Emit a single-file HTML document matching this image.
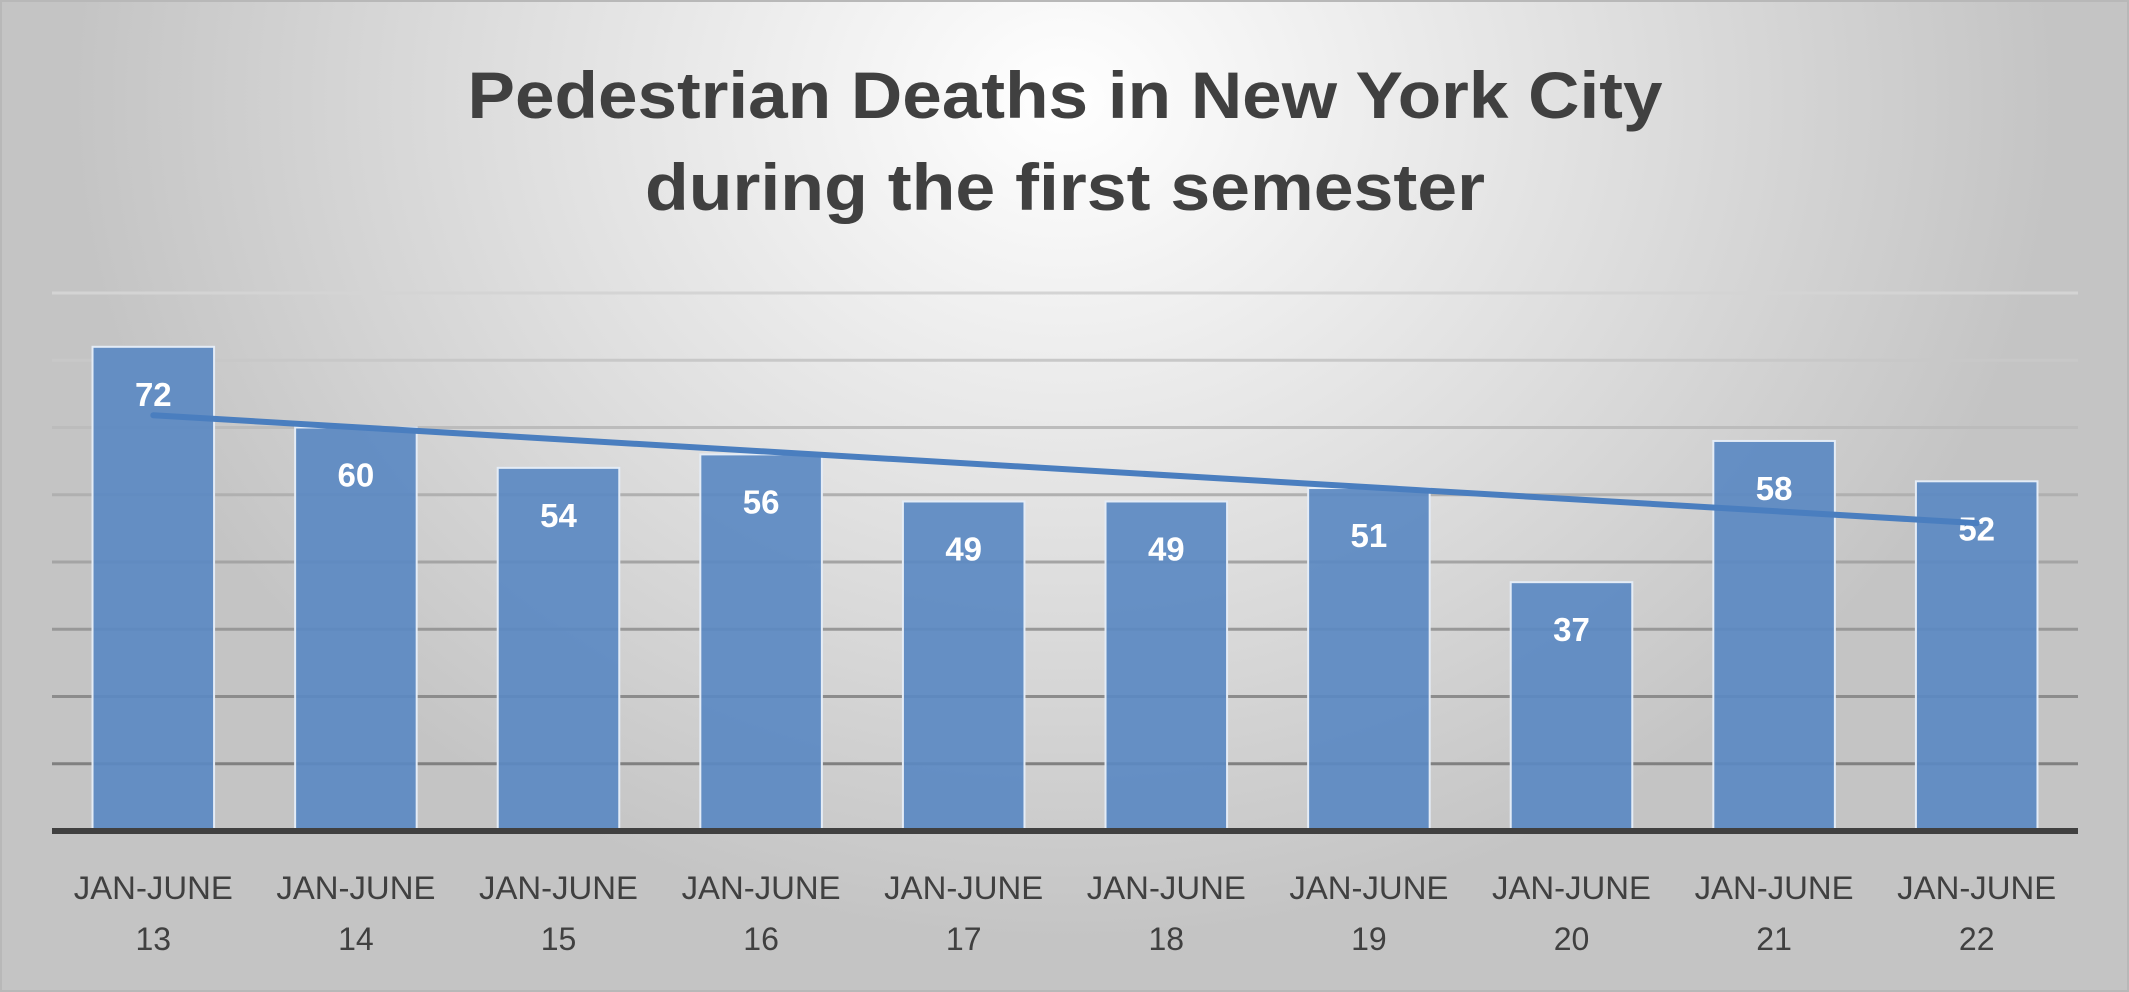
<!DOCTYPE html>
<html><head><meta charset="utf-8"><style>
html,body{margin:0;padding:0;width:2129px;height:992px;overflow:hidden}
svg{display:block}
</style></head><body>
<svg id="chart" width="2129" height="992" viewBox="0 0 2129 992" xmlns="http://www.w3.org/2000/svg" font-family="'Liberation Sans', sans-serif">
<defs>
<radialGradient id="bg" cx="0.5" cy="0.1" r="0.85" gradientTransform="translate(0.5 0.1) scale(0.55 1) translate(-0.5 -0.1)" gradientUnits="objectBoundingBox">
<stop offset="0" stop-color="#ffffff"/><stop offset="0.6" stop-color="#dcdcdc"/><stop offset="1" stop-color="#c4c4c4"/>
</radialGradient>
</defs>
<rect x="1" y="1" width="2127" height="990" fill="url(#bg)" stroke="#b8b8b8" stroke-width="2"/>
<g font-weight="bold" fill="#404040" font-size="66" text-anchor="middle">
<text x="1065" y="118" textLength="1195" lengthAdjust="spacingAndGlyphs">Pedestrian Deaths in New York City</text>
<text x="1065" y="210" textLength="840" lengthAdjust="spacingAndGlyphs">during the first semester</text>
</g>
<g id="grid"></g><g id="bars"></g><g id="labels"></g><g id="trend"></g><g id="xaxis"></g>
</svg>
<script>
const categories = ["13","14","15","16","17","18","19","20","21","22"];
const values = [72,60,54,56,49,49,51,37,58,52];
const gridTicks = [10,20,30,40,50,60,70,80];
const NS="http://www.w3.org/2000/svg";
const L=52,R=2078,base=831,top80=293,vmax=80;
const y=v=>base-(v/vmax)*(base-top80);
const band=(R-L)/categories.length;
const xc=i=>L+band*(i+0.5);
const bw=band*0.6;
function mk(t,a,p){const e=document.createElementNS(NS,t);for(const k in a)e.setAttribute(k,a[k]);p.appendChild(e);return e;}
const G=document.getElementById('grid');
gridTicks.forEach((t,i)=>{
 const c=Math.round(0xd4-(0xd4-0x80)*(i===gridTicks.length-1?0:(gridTicks.length-1-i)/(gridTicks.length-1)));
 const col=`rgb(${c},${c},${c})`;
 const l=mk('line',{x1:L,x2:R,y1:y(t),y2:y(t),stroke:col,'stroke-width':3},G);
 
 
});
const B=document.getElementById('bars'),LB=document.getElementById('labels'),X=document.getElementById('xaxis');
values.forEach((v,i)=>{
 const r=mk('rect',{x:xc(i)-bw/2,y:y(v),width:bw,height:base-y(v),fill:'#5b89c2','fill-opacity':0.92,stroke:'#e4ecf6','stroke-width':2},B);
 
 
 const t=mk('text',{x:xc(i),y:y(v)+59,'text-anchor':'middle','font-size':33,'font-weight':'bold',fill:'#ffffff'},LB);
 t.textContent=v;
 
 
 const a=mk('text',{x:xc(i),y:899,'text-anchor':'middle','font-size':32,fill:'#404040',textLength:159,lengthAdjust:'spacingAndGlyphs'},X);
 a.textContent='JAN-JUNE';
 
 
 const b=mk('text',{x:xc(i),y:950,'text-anchor':'middle','font-size':32,fill:'#404040'},X);
 b.textContent=categories[i];
 
 
});
const ax=mk('line',{x1:L,x2:R,y1:base,y2:base,stroke:'#404040','stroke-width':6},X);


const n=values.length;let mx=(n-1)/2,my=values.reduce((a,b)=>a+b,0)/n,sxy=0,sxx=0;
values.forEach((v,i)=>{sxy+=(i-mx)*(v-my);sxx+=(i-mx)*(i-mx);});
const sl=sxy/sxx,ic=my-sl*mx;
const tl=mk('line',{x1:xc(0),y1:y(ic),x2:xc(n-1),y2:y(ic+sl*(n-1)),stroke:'#4a7ebf','stroke-width':6,'stroke-linecap':'round'},document.getElementById('trend'));


</script>
</body></html>
